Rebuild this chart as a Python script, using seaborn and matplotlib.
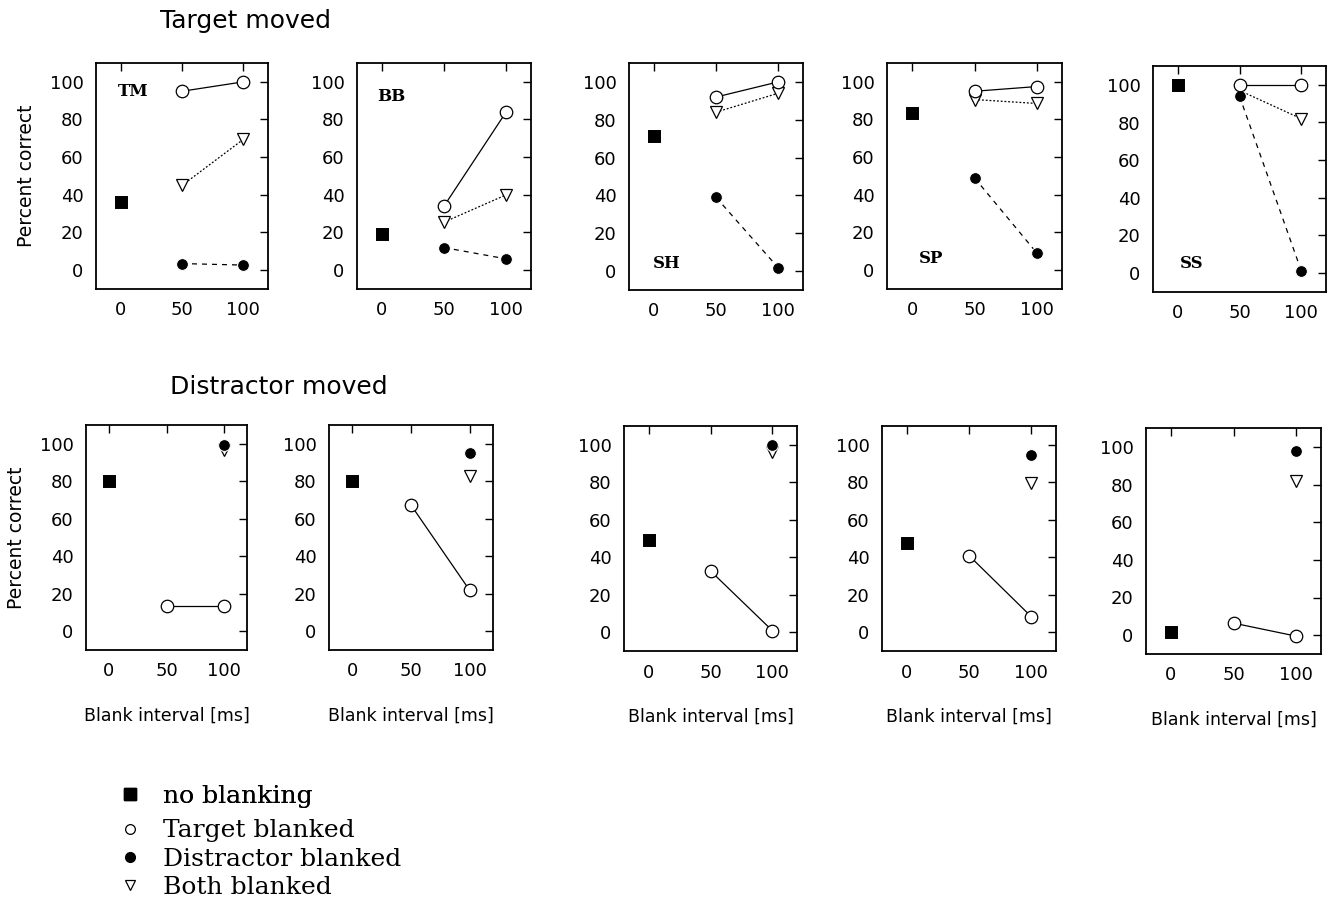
import matplotlib
matplotlib.use('Agg')
import matplotlib.pyplot as plt
import seaborn as sns
from matplotlib.lines import Line2D

# blank intervals (ms) and subjects
intervals = [0, 50, 100]
blank = [50, 100]
subjects = ['TM', 'BB', 'SH', 'SP', 'SS']

# Target moved (top row)
tm_none = [36, 19, 71.5, 83.5, 100]
tm_target = [[95, 100], [34, 84], [92, 100], [95, 97.5], [100, 100]]
tm_distr = [[3.5, 2.7], [12, 6], [39, 1.8], [49, 9], [94, 1.2]]
tm_both = [[45, 69.5], [25.5, 40], [84, 94], [90.6, 88.5], [97, 82]]

# Distractor moved (bottom row)
dm_none = [80, 80, 49.3, 47.7, 1.6]
dm_target = [[13.7, 13.7], [67.3, 21.9], [32.7, 0.9], [40.9, 8.4], [6.4, -0.5]]
dm_distr = [99.6, 95.2, 99.8, 94.3, 98]
dm_both = [96.6, 82.6, 96, 79.7, 81.7]

sns.set_style('white')
plt.rcParams['font.family'] = ['DejaVu Sans']
for k in ['text.color', 'axes.labelcolor', 'xtick.color', 'ytick.color']:
    plt.rcParams[k] = 'black'

W, H = 1328, 901
fig = plt.figure(figsize=(W / 100, H / 100), dpi=100)

def box(x0, x1, y0, y1):
    return [x0 / W, 1 - y1 / H, (x1 - x0) / W, (y1 - y0) / H]

top_boxes = [(96, 268, 63, 289), (357, 531, 63, 289), (629, 803, 63, 290),
             (887, 1062, 63, 289), (1153, 1326, 66, 292)]
bot_boxes = [(86, 247, 425, 650), (329, 493, 425, 650), (624, 797, 426, 651),
             (882, 1056, 426, 651), (1146, 1321, 428, 654)]
label_pos = [(10, 95), (8, 92), (10, 4), (15, 6), (11, 5)]

sq = dict(marker='s', color='black', markersize=10, linestyle='none')
op = dict(marker='o', color='black', markerfacecolor='white', markeredgecolor='black',
          markersize=9, linewidth=0.9, markeredgewidth=0.9)
fi = dict(marker='o', color='black', markerfacecolor='black', markersize=8.5,
          linewidth=0.9)
tr = dict(marker='v', color='black', markerfacecolor='white', markeredgecolor='black',
          markersize=8, linewidth=0.9, markeredgewidth=0.9)

def style_axis(ax):
    ax.set_xlim(-20, 120)
    ax.set_ylim(-10, 110)
    ax.set_xticks(intervals)
    ax.set_yticks([0, 20, 40, 60, 80, 100])
    ax.tick_params(direction='in', top=True, right=True, left=False, bottom=False,
                   length=6, width=1, labelsize=13, pad=9)
    for s in ax.spines.values():
        s.set_visible(True)
        s.set_linewidth(1.3)
        s.set_color('black')
    ax.set_xlabel('')
    ax.set_ylabel('')

for i, b in enumerate(top_boxes):
    ax = fig.add_axes(box(*b))
    sns.lineplot(x=[0], y=[tm_none[i]], ax=ax, **sq)
    sns.lineplot(x=blank, y=tm_both[i], ax=ax, linestyle=(0, (1.5, 1.5)), **tr)
    sns.lineplot(x=blank, y=tm_distr[i], ax=ax, linestyle=(0, (4, 4)), **fi)
    sns.lineplot(x=blank, y=tm_target[i], ax=ax, linestyle='-', **op)
    style_axis(ax)
    ax.text(label_pos[i][0], label_pos[i][1], subjects[i], ha='center', va='center',
            fontsize=12, fontweight='bold', family='DejaVu Serif')
    if i == 0:
        ax.set_ylabel('Percent correct', fontsize=13.5, labelpad=10)

for i, b in enumerate(bot_boxes):
    ax = fig.add_axes(box(*b))
    sns.lineplot(x=[0], y=[dm_none[i]], ax=ax, **sq)
    sns.lineplot(x=[100], y=[dm_both[i]], ax=ax, linestyle='none', **tr)
    sns.lineplot(x=[100], y=[dm_distr[i]], ax=ax, linestyle='none', **fi)
    sns.lineplot(x=blank, y=dm_target[i], ax=ax, linestyle='-', **op)
    style_axis(ax)
    ax.set_xlabel('Blank interval [ms]', fontsize=12.5, labelpad=19)
    if i == 0:
        ax.set_ylabel('Percent correct', fontsize=13.5, labelpad=10)

fig.text(160 / W, 1 - 21 / H, 'Target moved', fontsize=18, va='center', ha='left')
fig.text(170 / W, 1 - 387 / H, 'Distractor moved', fontsize=18, va='center', ha='left')

leg_font = {'family': 'DejaVu Serif', 'size': 18}
h1 = [Line2D([], [], marker='s', color='black', linestyle='none', markersize=9)]
leg1 = fig.legend(h1, ['no blanking'], loc='upper left',
                  bbox_to_anchor=(92 / W, 1 - 762 / H), frameon=False,
                  prop=leg_font, handlelength=1.2, handletextpad=0.75)
fig.add_artist(leg1)
h2 = [Line2D([], [], marker='o', color='black', markerfacecolor='white', linestyle='none',
             markersize=7, markeredgewidth=0.9),
      Line2D([], [], marker='o', color='black', linestyle='none', markersize=7),
      Line2D([], [], marker='v', color='black', markerfacecolor='white', linestyle='none',
             markersize=7, markeredgewidth=0.9)]
fig.legend(h2, ['Target blanked', 'Distractor blanked', 'Both blanked'], loc='upper left',
           bbox_to_anchor=(92 / W, 1 - 797 / H), frameon=False, prop=leg_font,
           handlelength=1.2, handletextpad=0.75, labelspacing=0.2)

fig.savefig('out.png', dpi=100)
